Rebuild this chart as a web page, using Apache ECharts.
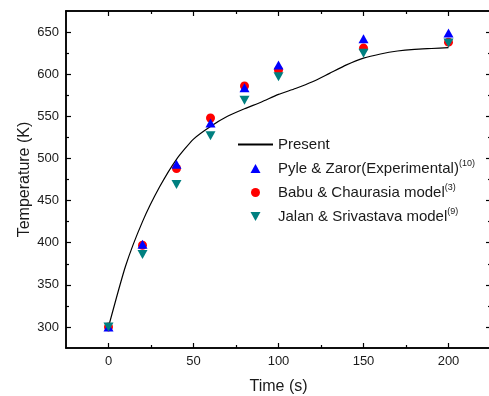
<!DOCTYPE html>
<html>
<head>
<meta charset="utf-8">
<script src="https://cdn.jsdelivr.net/npm/echarts@6/dist/echarts.min.js"></script>
<style>
  html, body { margin: 0; padding: 0; background: #fff; overflow: hidden; }
  #chart { width: 500px; height: 396px; }
</style>
</head>
<body>
<div id="chart"></div>
<script>
// Model curve (present work)
const presentTime = [0, 10, 20, 30, 40, 50, 60, 70, 80, 90, 100, 110, 120, 130, 140, 150, 160, 170, 180, 190, 200];
const presentTemp = [300, 372, 425, 466, 499, 523, 538, 550, 559, 567, 576, 583, 591, 601, 611, 619, 624, 627.5, 629.5, 630.5, 631.5];

// Comparison data sets
const pointTime = [0, 20, 40, 60, 80, 100, 150, 200];
const pyleTemp = [300, 398, 493, 542, 584, 611, 642, 649];
const babuTemp = [300, 397, 488, 548, 586, 605, 631, 638];
const jalanTemp = [300, 386, 469, 527, 569, 597, 625, 637];

// Axis ticks
const xMajorTicks = [0, 50, 100, 150, 200];
const xMinorTicks = [25, 75, 125, 175];
const yMajorTicks = [300, 350, 400, 450, 500, 550, 600, 650];
const yMinorTicks = [325, 375, 425, 475, 525, 575, 625];

const seriesNames = ['Present', 'Pyle & Zaror(Experimental)', 'Babu & Chaurasia model', 'Jalan & Srivastava model'];
const seriesRefs = { 'Pyle & Zaror(Experimental)': '(10)', 'Babu & Chaurasia model': '(3)', 'Jalan & Srivastava model': '(9)' };

const pairs = (xs, ys) => xs.map((x, i) => [x, ys[i]]);

const FONT = 'Liberation Sans, Arial, sans-serif';
const INK = '#1a1a1a';

// Legend icons: a 10x9 triangle centred in a 35x10 box (the leading moves fix the box size)
const TRI_UP = 'path://M0,0M35,10M17.5,0.5L22.5,9.5L12.5,9.5Z';
const TRI_DOWN = 'path://M0,0M35,10M12.5,0.5L22.5,0.5L17.5,9.5Z';
const DOT = 'path://M0,0M35,10M22,5A4.5,4.5,0,1,1,13,5A4.5,4.5,0,1,1,22,5Z';

function xAxisDef(pos, ticks, len, labels) {
  return {
    type: 'value', position: pos, min: -25, max: 225,
    axisLine: { show: true, onZero: false, lineStyle: { color: '#000', width: 1.5 } },
    axisTick: { show: true, inside: true, length: len, customValues: ticks, lineStyle: { color: '#000', width: 1.2 } },
    axisLabel: labels ? { show: true, customValues: ticks, margin: 7, fontSize: 13, color: INK, fontFamily: FONT } : { show: false },
    splitLine: { show: false }
  };
}
function yAxisDef(pos, ticks, len, labels) {
  return {
    type: 'value', position: pos, min: 275, max: 675,
    axisLine: { show: true, onZero: false, lineStyle: { color: '#000', width: 1.5 } },
    axisTick: { show: true, inside: true, length: len, customValues: ticks, lineStyle: { color: '#000', width: 1.2 } },
    axisLabel: labels ? { show: true, customValues: ticks, margin: 7, fontSize: 13, color: INK, fontFamily: FONT } : { show: false },
    splitLine: { show: false }
  };
}

const xAxes = [
  xAxisDef('bottom', xMajorTicks, 5, true),
  xAxisDef('bottom', xMinorTicks, 3, false),
  xAxisDef('top', xMajorTicks, 5, false),
  xAxisDef('top', xMinorTicks, 3, false)
];
Object.assign(xAxes[0], { name: 'Time (s)', nameLocation: 'middle', nameGap: 31, nameMoveOverlap: false,
  nameTextStyle: { fontSize: 16, color: INK, fontFamily: FONT } });

const yAxes = [
  yAxisDef('left', yMajorTicks, 5, true),
  yAxisDef('left', yMinorTicks, 3, false),
  yAxisDef('right', yMajorTicks, 5, false),
  yAxisDef('right', yMinorTicks, 3, false)
];
Object.assign(yAxes[0], { name: 'Temperature (K)', nameLocation: 'middle', nameGap: 33, nameMoveOverlap: false,
  nameTextStyle: { fontSize: 16, color: INK, fontFamily: FONT } });

const chart = echarts.init(document.getElementById('chart'), null, { renderer: 'canvas' });
chart.setOption({
  animation: false,
  backgroundColor: '#fff',
  grid: { left: 66, top: 11, width: 425, height: 337, containLabel: false, outerBoundsMode: 'none' },
  xAxis: xAxes,
  yAxis: yAxes,
  legend: {
    data: [
      { name: seriesNames[0], itemStyle: { color: 'rgba(0,0,0,0)', borderWidth: 0, opacity: 0 } },
      { name: seriesNames[1], icon: TRI_UP },
      { name: seriesNames[2], icon: DOT },
      { name: seriesNames[3], icon: TRI_DOWN }
    ],
    orient: 'vertical',
    left: 237, top: 137,
    itemWidth: 35, itemHeight: 10, itemGap: 7.5,
    symbolRotate: 0,
    padding: 0,
    formatter: function (name) {
      const ref = seriesRefs[name];
      return ref ? '{b|' + name + '}{s|' + ref + '}' : '{b|' + name + '}';
    },
    textStyle: {
      color: INK, fontFamily: FONT, fontSize: 15,
      rich: {
        b: { fontSize: 15, lineHeight: 18, color: INK, fontFamily: FONT },
        s: { fontSize: 9, lineHeight: 9, verticalAlign: 'top', color: INK, fontFamily: FONT }
      }
    }
  },
  series: [
    {
      name: seriesNames[0], type: 'line', data: pairs(presentTime, presentTemp),
      symbol: 'none', smooth: 0.2, z: 2,
      lineStyle: { color: '#000', width: 1.2 }, itemStyle: { color: '#000' }
    },
    {
      name: seriesNames[2], type: 'scatter', data: pairs(pointTime, babuTemp),
      symbol: 'circle', symbolSize: 9, z: 3,
      itemStyle: { color: '#ff0000', opacity: 1 }
    },
    {
      name: seriesNames[1], type: 'scatter', data: pairs(pointTime, pyleTemp),
      symbol: 'triangle', symbolSize: [10, 9], z: 4,
      itemStyle: { color: '#0000ff', opacity: 1 }
    },
    {
      name: seriesNames[3], type: 'scatter', data: pairs(pointTime, jalanTemp),
      symbol: 'triangle', symbolRotate: 180, symbolSize: [10, 9], z: 5,
      itemStyle: { color: '#008080', opacity: 1 }
    }
  ]
});
</script>
</body>
</html>
